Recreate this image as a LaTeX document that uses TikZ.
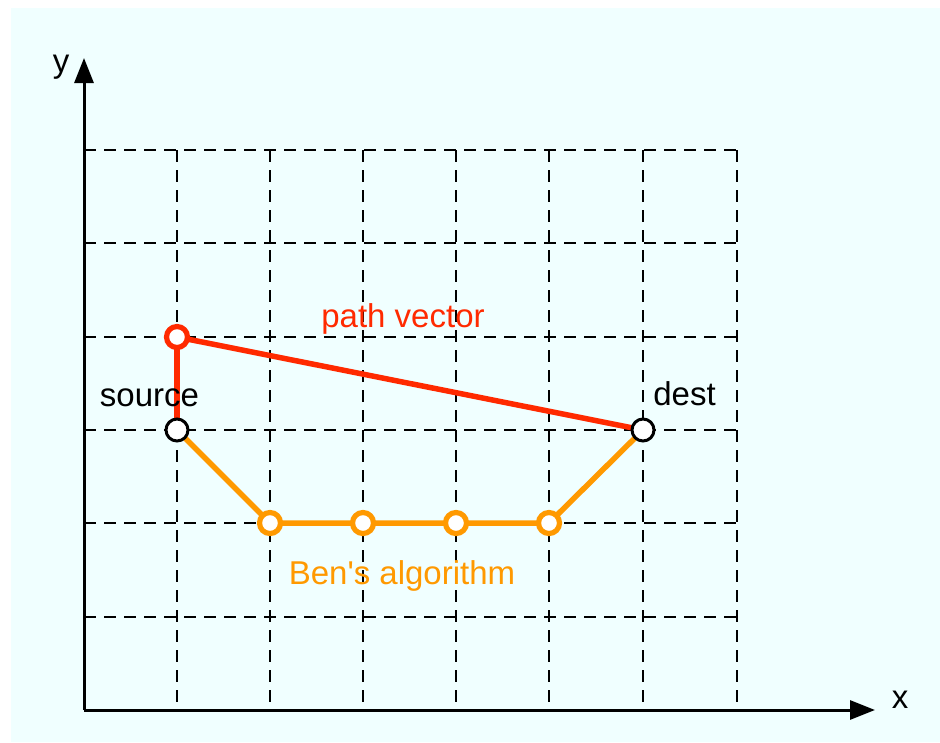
\documentclass[tikz,border=0pt]{standalone}
\usepackage{fontspec}
\setmainfont{Liberation Sans}
\usetikzlibrary{arrows.meta}
\pgfdeclarelayer{bg}
\pgfdeclarelayer{edges}
\pgfsetlayers{bg,edges,main}
\definecolor{bgcyan}{HTML}{F0FFFF}
\definecolor{pathred}{HTML}{FF2A00}
\definecolor{benorange}{HTML}{FF9900}
\tikzset{
  gridline/.style={black, line width=2.3pt, dash pattern=on 12pt off 8pt},
  axisline/.style={black, line width=3pt, -{Triangle[length=25pt,width=19pt]}},
  whitenode/.style={circle, draw=black, fill=white, line width=3pt, minimum size=22pt, inner sep=0pt},
  rednode/.style={circle, draw=pathred, fill=white, line width=5.2pt, minimum size=21pt, inner sep=0pt},
  orangenode/.style={circle, draw=benorange, fill=white, line width=5.2pt, minimum size=21pt, inner sep=0pt},
  redline/.style={pathred, line width=5.5pt},
  orangeline/.style={benorange, line width=5.5pt},
  lbl/.style={anchor=base, inner sep=0pt, font=\fontsize{33}{40}\selectfont}
}
\begin{document}
\begin{tikzpicture}[x=1pt,y=-1pt]
\useasboundingbox (0,0) rectangle (940,742);
\begin{pgfonlayer}{bg}
  \fill[bgcyan] (11,8) rectangle (940,742);
  % horizontal dashed grid lines
  \foreach \y in {150,243,337,430,523,617} {
    \draw[gridline] (84,\y) -- (737,\y);
  }
  % vertical dashed grid lines
  \foreach \x in {177,270,363,456,549,643,737} {
    \draw[gridline] (\x,150) -- (\x,710);
  }
  % axes
  \coordinate (origin) at (84,710);
  \coordinate (ytip) at (84,58);
  \coordinate (xtip) at (875,710);
  \draw[axisline] (origin) -- (ytip);
  \draw[axisline] (origin) -- (xtip);
\end{pgfonlayer}

% nodes
\node[whitenode] (source) at (177,430) {};
\node[rednode] (pv) at (177,337) {};
\node[whitenode] (dest) at (643,430) {};
\node[orangenode] (b1) at (270,523) {};
\node[orangenode] (b2) at (363,523) {};
\node[orangenode] (b3) at (456,523) {};
\node[orangenode] (b4) at (549,523) {};

\begin{pgfonlayer}{edges}
  \draw[redline] (pv.center) -- (source.center);
  \draw[redline] (pv.center) -- (dest.center);
  \draw[orangeline] (source.center) -- (b1.center) -- (b2.center) -- (b3.center) -- (b4.center) -- (dest.center);
\end{pgfonlayer}

% labels
\node[lbl, text=pathred] (lpv) at (403,327) {path vector};
\node[lbl, text=benorange] (lben) at (402,584) {Ben\textquotesingle s algorithm};
\node[lbl] (lsource) at (149.5,406) {source};
\node[lbl] (ldest) at (684.5,405) {dest};
\node[lbl] (lx) at (900,708) {x};
\node[lbl] (ly) at (61,72) {y};
\end{tikzpicture}
\end{document}
